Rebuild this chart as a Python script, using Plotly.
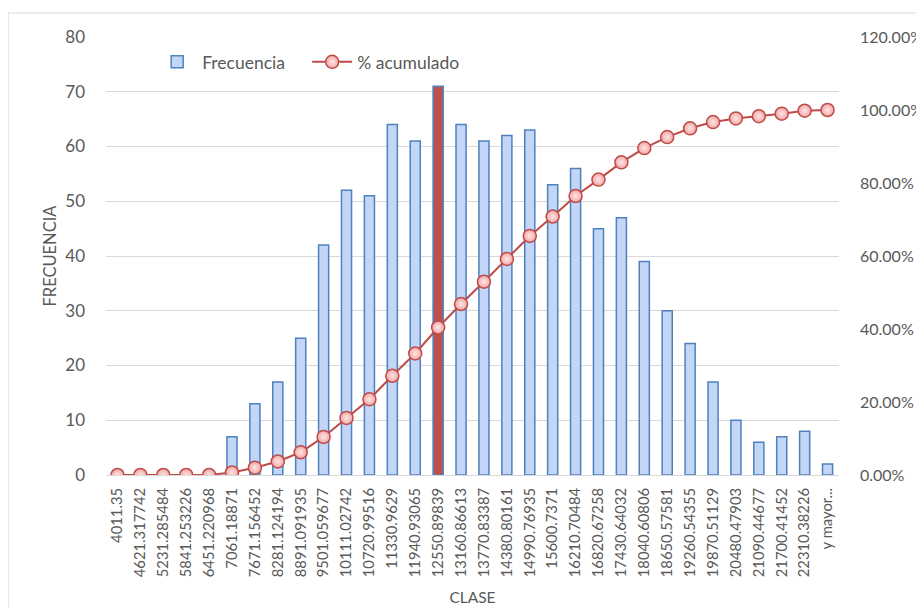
import plotly.graph_objects as go

# histogram classes (bin upper limits) as shown on the x axis
clases = [
    "4011.35", "4621.317742", "5231.285484", "5841.253226", "6451.220968",
    "7061.18871", "7671.156452", "8281.124194", "8891.091935", "9501.059677",
    "10111.02742", "10720.99516", "11330.9629", "11940.93065", "12550.89839",
    "13160.86613", "13770.83387", "14380.80161", "14990.76935", "15600.7371",
    "16210.70484", "16820.67258", "17430.64032", "18040.60806", "18650.57581",
    "19260.54355", "19870.51129", "20480.47903", "21090.44677", "21700.41452",
    "22310.38226", "y mayor...",
]
frecuencia = [0, 0, 0, 0, 0, 7, 13, 17, 25, 42, 52, 51, 64, 61, 71, 64,
              61, 62, 63, 53, 56, 45, 47, 39, 30, 24, 17, 10, 6, 7, 8, 2]
pct_acumulado = [0.0, 0.0, 0.0, 0.0, 0.0, 0.70, 2.01, 3.71, 6.22, 10.43,
                 15.65, 20.76, 27.18, 33.30, 40.42, 46.84, 52.96, 59.18,
                 65.50, 70.81, 76.43, 80.94, 85.66, 89.57, 92.58, 94.98,
                 96.69, 97.69, 98.29, 99.00, 99.80, 100.0]
clase_destacada = "12550.89839"

GRIS = "#595959"
REJILLA = "#d9d9d9"
FUENTE = "Lato, Carlito, sans-serif"

bar_colors = ["#c0504d" if c == clase_destacada else "#c3d6f7" for c in clases]

fig = go.Figure()

fig.add_trace(go.Bar(
    x=clases, y=frecuencia, name="Frecuencia",
    marker=dict(color=bar_colors, line=dict(color="#4f81bd", width=1.5)),
))

fig.add_trace(go.Scatter(
    x=clases, y=[p / 100 for p in pct_acumulado], name="% acumulado",
    yaxis="y2", mode="lines+markers",
    line=dict(color="#be4b48", width=2),
    marker=dict(symbol="circle", size=13, color="#f4a6a6",
                gradient=dict(type="radial", color="#fde6e6"),
                line=dict(color="#be4b48", width=1.5)),
))

# outer chart border
fig.add_shape(type="rect", xref="paper", yref="paper",
              x0=-0.1337, x1=1.2, y0=-0.4, y1=1.0548,
              line=dict(color=REJILLA, width=1.2), fillcolor="rgba(0,0,0,0)",
              layer="below")

# page body has an 8px margin, so the figure is drawn 8px smaller
fig.update_layout(
    width=916, height=600,
    margin=dict(l=98, r=85, t=29, b=133),
    paper_bgcolor="white", plot_bgcolor="white",
    font=dict(family=FUENTE, color=GRIS, size=15),
    bargap=0.56,
    showlegend=True,
    legend=dict(orientation="h", x=0.063, y=0.943, yanchor="middle",
                xanchor="left", font=dict(size=17.5, color=GRIS),
                bgcolor="rgba(0,0,0,0)", itemwidth=40, tracegroupgap=0,
                entrywidth=100),
    xaxis=dict(
        type="category", range=[-0.5, len(clases) - 0.5],
        tickangle=-90, tickfont=dict(size=14.8),
        showgrid=False, showline=True, linecolor=REJILLA, linewidth=1,
        ticks="", ticklabelstandoff=6, automargin=False,
        title=dict(text="CLASE", font=dict(size=15.5), standoff=15),
    ),
    yaxis=dict(
        range=[0, 80], dtick=10, showgrid=True, gridcolor=REJILLA,
        gridwidth=1.2, zeroline=False, showline=False, ticks="",
        tickfont=dict(size=17), ticklabelstandoff=20, automargin=False,
        title=dict(text="FRECUENCIA", font=dict(size=16.5), standoff=4),
    ),
    yaxis2=dict(
        overlaying="y", side="right", range=[0, 1.2], dtick=0.2,
        tickformat=".2%", showgrid=False, zeroline=False, showline=False,
        ticks="", tickfont=dict(size=16), ticklabelstandoff=20,
        automargin=False,
    ),
)

fig.write_html("out.html")
